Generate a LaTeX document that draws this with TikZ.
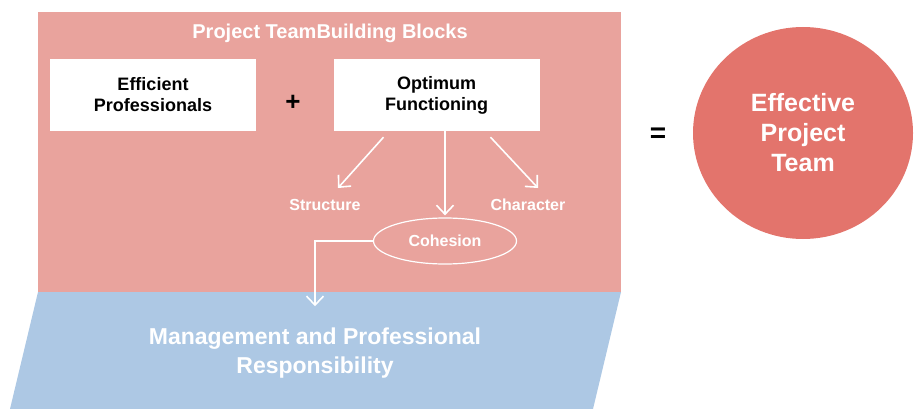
\documentclass[tikz,border=0pt]{standalone}
\usepackage{fontspec}
\setmainfont{Liberation Sans}
\usetikzlibrary{shapes,arrows.meta}
\definecolor{blockpink}{RGB}{233,163,157}
\definecolor{teamred}{RGB}{227,116,108}
\definecolor{dutyblue}{RGB}{173,200,228}
\tikzset{whitebox/.style={fill=white,minimum width=206pt,minimum height=72pt,align=center,
 font=\fontsize{18}{21}\selectfont\bfseries},
 sublabel/.style={text=white,font=\fontsize{16}{18}\selectfont\bfseries},
 flow/.style={draw=white,line width=1.6pt,-{Straight Barb[length=9pt,width=17pt]}},
 }

\begin{document}
\begin{tikzpicture}[x=1pt,y=-1pt]
        \useasboundingbox (0,0) rectangle (917,409);
        \fill[blockpink] (38,12) rectangle (621,292);
        \fill[dutyblue] (38,292) -- (621,292) -- (593,409) -- (10,409) -- cycle;
        \node[text=white,font=\fontsize{20}{24}\selectfont\bfseries] (title) at (330,33) {Project TeamBuilding Blocks};
        \node[whitebox] (eff) at (153,95) {Efficient\\Professionals};
        \node[font=\fontsize{26}{26}\selectfont\bfseries] (plus) at (293,103) {+};
        \node[whitebox] (opt) at (436.5,95) {Optimum\\Functioning};
        \node[sublabel] (struct) at (325,205) {Structure};
        \node[sublabel] (char) at (528,205) {Character};
        \node[sublabel,ellipse,draw=white,line width=1.2pt,minimum width=143pt,minimum height=46pt] (coh) at (445,241) {Cohesion};
        \node[text=white,align=center,font=\fontsize{23}{29}\selectfont\bfseries] (duty) at (315,353) {Management and Professional\\Responsibility};
        \node[font=\fontsize{28}{28}\selectfont\bfseries] (eq) at (658,135) {=};
        \node[ellipse,fill=teamred,minimum width=220pt,minimum height=212pt,text=white,align=center,
        font=\fontsize{25}{30}\selectfont\bfseries] (team) at (803,133) {Effective\\Project\\Team};
        \coordinate (structtip) at (338,188);
        \coordinate (chartip) at (538,188);
        \draw[flow] ([xshift=-53pt,yshift=-6pt]opt.south) -- (structtip);
        \draw[flow] ([xshift=54pt,yshift=-6pt]opt.south) -- (chartip);
        \draw[flow,shorten >=2pt] (opt.south -| coh.north) -- (coh.north);
        \draw[flow,shorten >=18pt] (coh.west) -| (duty.north);
    \end{tikzpicture}
\end{document}
